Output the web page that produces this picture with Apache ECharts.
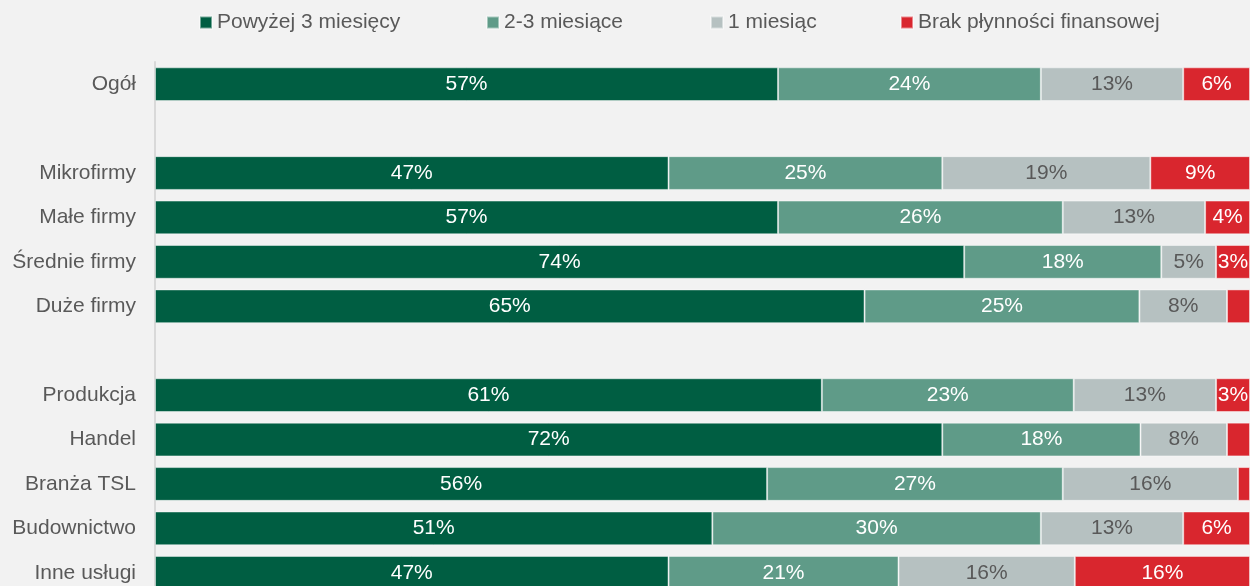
<!DOCTYPE html>
<html><head><meta charset="utf-8">
<script src="https://cdn.jsdelivr.net/npm/echarts@6/dist/echarts.min.js"></script>
<style>html,body{margin:0;padding:0;background:#F2F2F2;overflow:hidden;}#c{width:1250px;height:600px;}</style>
</head><body><div id="c"></div>
<script>
const categories = ['Ogół','','Mikrofirmy','Małe firmy','Średnie firmy','Duże firmy','','Produkcja','Handel','Branża TSL','Budownictwo','Inne usługi'];
const seriesNames = ['Powyżej 3 miesięcy','2-3 miesiące','1 miesiąc','Brak płynności finansowej'];
const over3 = [56.9, null, 46.9, 56.9, 73.9, 64.8, null, 60.9, 71.9, 55.9, 50.9, 46.9];
const m2to3 = [24.0, null, 25.0, 26.0, 18.0, 25.1, null, 23.0, 18.1, 27.0, 30.0, 21.0];
const m1 = [13.0, null, 19.0, 13.0, 5.0, 8.0, null, 13.0, 7.9, 16.0, 13.0, 16.1];
const noLiquidity = [6.1, null, 9.1, 4.1, 3.1, 2.1, null, 3.1, 2.1, 1.1, 6.1, 16.0];

const colors = ['#005E42','#5F9B88','#B6C1C1','#D9262E'];
const labelColors = ['#FFFFFF','#FFFFFF','#595959','#FFFFFF'];
const values = [over3, m2to3, m1, noLiquidity];
const legendLeft = [194, 481, 705, 895];
const font = 'Liberation Sans, Arial, sans-serif';

const chart = echarts.init(document.getElementById('c'));
chart.setOption({
  backgroundColor: '#F2F2F2',
  animation: false,
  legend: seriesNames.map((n, i) => ({
    data: [n], left: legendLeft[i], top: 7, itemWidth: 12, itemHeight: 12, itemGap: 0,
    icon: 'rect', textStyle: { color: '#595959', fontSize: 21, fontFamily: font }
  })),
  grid: { left: 155, right: 0, top: 62, height: 533, containLabel: false },
  xAxis: { type: 'value', min: 0, max: 100, show: false },
  yAxis: {
    type: 'category', data: categories, inverse: true,
    axisLine: { show: true, lineStyle: { color: '#D9D9D9', width: 2 } },
    axisTick: { show: false },
    axisLabel: { color: '#595959', fontSize: 21, fontFamily: font, margin: 19 }
  },
  series: seriesNames.map((n, i) => ({
    name: n, type: 'bar', stack: 'total', data: values[i], barCategoryGap: '24%',
    itemStyle: { color: colors[i], borderColor: 'rgba(255,255,255,0.45)', borderWidth: 1 },
    label: {
      show: true, position: 'inside', color: labelColors[i], fontSize: 21, fontFamily: font,
      formatter: p => (p.value == null || p.value < 2.5) ? '' : Math.round(p.value) + '%'
    }
  }))
});
</script></body></html>
